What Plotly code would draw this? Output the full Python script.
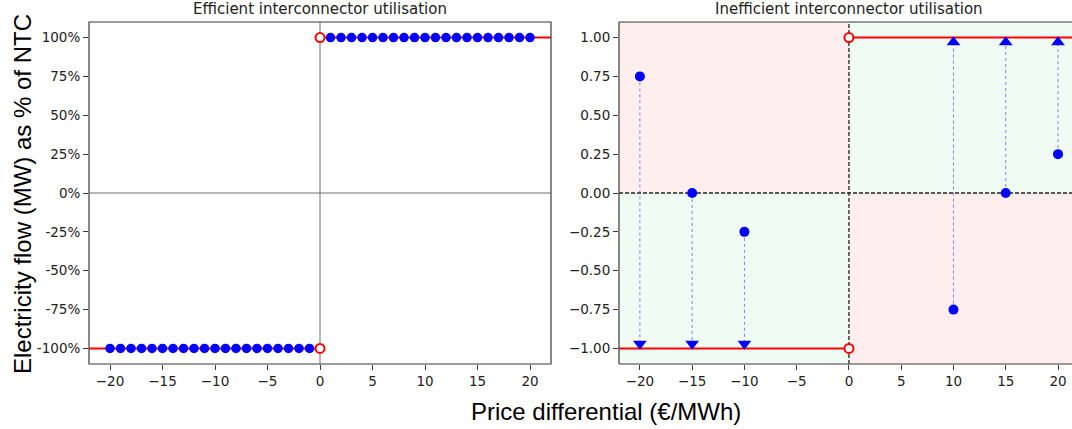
import plotly.graph_objects as go

# ---------------- data ----------------
# Left panel: efficient utilisation
eff_x_neg = [-20, -19, -18, -17, -16, -15, -14, -13, -12, -11, -10, -9, -8, -7, -6, -5, -4, -3, -2, -1]
eff_y_neg = [-1] * 20
eff_x_pos = [1, 2, 3, 4, 5, 6, 7, 8, 9, 10, 11, 12, 13, 14, 15, 16, 17, 18, 19, 20]
eff_y_pos = [1] * 20

# Right panel: inefficient utilisation
ineff_x = [-20, -15, -10, 10, 15, 20]
ineff_y = [0.75, 0.0, -0.25, -0.75, 0.0, 0.25]
ineff_target = [-0.97, -0.97, -0.97, 0.97, 0.97, 0.97]

# Red boundary step (capacity)
step_neg_x = [-22, 0]
step_neg_y = [-1, -1]
step_pos_x = [0, 22]
step_pos_y = [1, 1]
open_x = [0, 0]
open_y = [1, -1]

ytick_vals = [1.0, 0.75, 0.5, 0.25, 0.0, -0.25, -0.5, -0.75, -1.0]
ytick_pct = ["100%", "75%", "50%", "25%", "0%", "-25%", "-50%", "-75%", "-100%"]
ytick_dec = ["1.00", "0.75", "0.50", "0.25", "0.00", "\u22120.25", "\u22120.50", "\u22120.75", "\u22121.00"]
xtick_vals = [-20, -15, -10, -5, 0, 5, 10, 15, 20]
xtick_text = ["\u221220", "\u221215", "\u221210", "\u22125", "0", "5", "10", "15", "20"]

titles = ["Efficient interconnector utilisation", "Inefficient interconnector utilisation"]
y_label = "Electricity flow (MW) as % of NTC"
x_label = "Price differential (\u20ac/MWh)"

# ---------------- figure ----------------
W, H = 1072, 429
BLUE = "#0000ff"
RED = "#ff0000"
FRAME = "#3a3a3a"

fig = go.Figure()

def px_x(p):
    return p / W

def px_y(p):
    return 1 - p / H

ydom = [px_y(364), px_y(22)]
x1dom = [px_x(89), px_x(551)]
x2dom = [px_x(619), 1.0]

# ---- left panel traces ----
fig.add_trace(go.Scatter(x=step_neg_x, y=step_neg_y, mode="lines", line=dict(color=RED, width=2),
                         xaxis="x", yaxis="y", showlegend=False, hoverinfo="skip"))
fig.add_trace(go.Scatter(x=step_pos_x, y=step_pos_y, mode="lines", line=dict(color=RED, width=2),
                         xaxis="x", yaxis="y", showlegend=False, hoverinfo="skip"))
fig.add_trace(go.Scatter(x=eff_x_neg, y=eff_y_neg, mode="markers", marker=dict(color=BLUE, size=9.5),
                         xaxis="x", yaxis="y", showlegend=False))
fig.add_trace(go.Scatter(x=eff_x_pos, y=eff_y_pos, mode="markers", marker=dict(color=BLUE, size=9.5),
                         xaxis="x", yaxis="y", showlegend=False))
fig.add_trace(go.Scatter(x=open_x, y=open_y, mode="markers",
                         marker=dict(color="white", size=9, line=dict(color=RED, width=2)),
                         xaxis="x", yaxis="y", showlegend=False))

# ---- right panel traces ----
fig.add_trace(go.Scatter(x=step_neg_x, y=step_neg_y, mode="lines", line=dict(color=RED, width=2),
                         xaxis="x2", yaxis="y2", showlegend=False, hoverinfo="skip"))
fig.add_trace(go.Scatter(x=step_pos_x, y=step_pos_y, mode="lines", line=dict(color=RED, width=2),
                         xaxis="x2", yaxis="y2", showlegend=False, hoverinfo="skip"))
for xv, yv, tv in zip(ineff_x, ineff_y, ineff_target):
    fig.add_trace(go.Scatter(x=[xv, xv], y=[yv, tv], mode="lines",
                             line=dict(color="rgba(60,80,255,0.7)", width=1, dash="dot"),
                             xaxis="x2", yaxis="y2", showlegend=False, hoverinfo="skip"))
down_x = [x for x, t in zip(ineff_x, ineff_target) if t < 0]
down_y = [t for t in ineff_target if t < 0]
up_x = [x for x, t in zip(ineff_x, ineff_target) if t > 0]
up_y = [t for t in ineff_target if t > 0]
fig.add_trace(go.Scatter(x=down_x, y=down_y, mode="markers",
                         marker=dict(symbol="triangle-down", color=BLUE, size=12),
                         xaxis="x2", yaxis="y2", showlegend=False))
fig.add_trace(go.Scatter(x=up_x, y=up_y, mode="markers",
                         marker=dict(symbol="triangle-up", color=BLUE, size=12),
                         xaxis="x2", yaxis="y2", showlegend=False))
fig.add_trace(go.Scatter(x=ineff_x, y=ineff_y, mode="markers", marker=dict(color=BLUE, size=10),
                         xaxis="x2", yaxis="y2", showlegend=False))
fig.add_trace(go.Scatter(x=open_x, y=open_y, mode="markers",
                         marker=dict(color="white", size=9, line=dict(color=RED, width=2)),
                         xaxis="x2", yaxis="y2", showlegend=False))

# ---- shapes ----
PINK = "#ffeeee"
GREEN = "#f0fcf3"
DASH = "4px,2px"
shapes = [
    # quadrant shading (right panel)
    dict(type="rect", xref="x2", yref="y2", x0=-22, x1=0, y0=0, y1=1.1, fillcolor=PINK, line=dict(width=0), layer="below"),
    dict(type="rect", xref="x2", yref="y2", x0=0, x1=22, y0=-1.1, y1=0, fillcolor=PINK, line=dict(width=0), layer="below"),
    dict(type="rect", xref="x2", yref="y2", x0=-22, x1=0, y0=-1.1, y1=0, fillcolor=GREEN, line=dict(width=0), layer="below"),
    dict(type="rect", xref="x2", yref="y2", x0=0, x1=22, y0=0, y1=1.1, fillcolor=GREEN, line=dict(width=0), layer="below"),
    # zero lines
    dict(type="line", xref="x", yref="y", x0=0, x1=0, y0=-1.1, y1=1.1, line=dict(color="#707070", width=1), layer="below"),
    dict(type="line", xref="x", yref="y", x0=-22, x1=22, y0=0, y1=0, line=dict(color="#707070", width=1), layer="below"),
    dict(type="line", xref="x2", yref="y2", x0=0, x1=0, y0=-1.1, y1=1.1, line=dict(color="#222", width=1.3, dash=DASH), layer="below"),
    dict(type="line", xref="x2", yref="y2", x0=-22, x1=22, y0=0, y1=0, line=dict(color="#222", width=1.3, dash=DASH), layer="below"),
    # right panel frame (top, left, bottom only; right edge is cropped)
    dict(type="line", xref="paper", yref="paper", x0=x2dom[0], x1=1.0, y0=ydom[1], y1=ydom[1], line=dict(color=FRAME, width=1.2)),
    dict(type="line", xref="paper", yref="paper", x0=x2dom[0], x1=1.0, y0=ydom[0], y1=ydom[0], line=dict(color=FRAME, width=1.2)),
    dict(type="line", xref="paper", yref="paper", x0=x2dom[0], x1=x2dom[0], y0=ydom[0], y1=ydom[1], line=dict(color=FRAME, width=1.2)),
    # left panel frame
    dict(type="rect", xref="paper", yref="paper", x0=x1dom[0], x1=x1dom[1], y0=ydom[0], y1=ydom[1], line=dict(color=FRAME, width=1.2)),
]

tickfont = dict(family="DejaVu Sans", size=13.5, color="#222")
common_x = dict(tickmode="array", tickvals=xtick_vals, ticktext=xtick_text, ticks="outside", ticklen=5,
                tickcolor=FRAME, showgrid=False, zeroline=False, showline=False, tickfont=tickfont, fixedrange=True)
common_y = dict(tickmode="array", tickvals=ytick_vals, ticks="outside", ticklen=5, range=[-1.1, 1.1],
                tickcolor=FRAME, showgrid=False, zeroline=False, showline=False, tickfont=tickfont, domain=ydom, fixedrange=True)

fig.update_layout(
    width=W, height=H,
    margin=dict(l=0, r=0, t=0, b=0),
    paper_bgcolor="white", plot_bgcolor="white",
    showlegend=False,
    shapes=shapes,
    xaxis=dict(common_x, domain=x1dom, range=[-22, 22], anchor="y"),
    yaxis=dict(common_y, ticktext=ytick_pct, anchor="x"),
    xaxis2=dict(common_x, domain=x2dom, range=[-22, (W - 849) / 10.45], anchor="y2"),
    yaxis2=dict(common_y, ticktext=ytick_dec, anchor="x2"),
    annotations=[
        dict(text=titles[0], xref="paper", yref="paper", x=px_x(320), y=px_y(9), showarrow=False,
             xanchor="center", yanchor="middle", font=dict(family="DejaVu Sans", size=15, color="#222")),
        dict(text=titles[1], xref="paper", yref="paper", x=px_x(849), y=px_y(9), showarrow=False,
             xanchor="center", yanchor="middle", font=dict(family="DejaVu Sans", size=15, color="#222")),
        dict(text=y_label, xref="paper", yref="paper", x=px_x(22), y=px_y(194), showarrow=False, textangle=-90,
             xanchor="center", yanchor="middle", font=dict(family="Liberation Sans", size=24, color="black")),
        dict(text=x_label, xref="paper", yref="paper", x=px_x(606), y=px_y(411), showarrow=False,
             xanchor="center", yanchor="middle", font=dict(family="Liberation Sans", size=24, color="black")),
    ],
)

fig.write_html("out.html")
